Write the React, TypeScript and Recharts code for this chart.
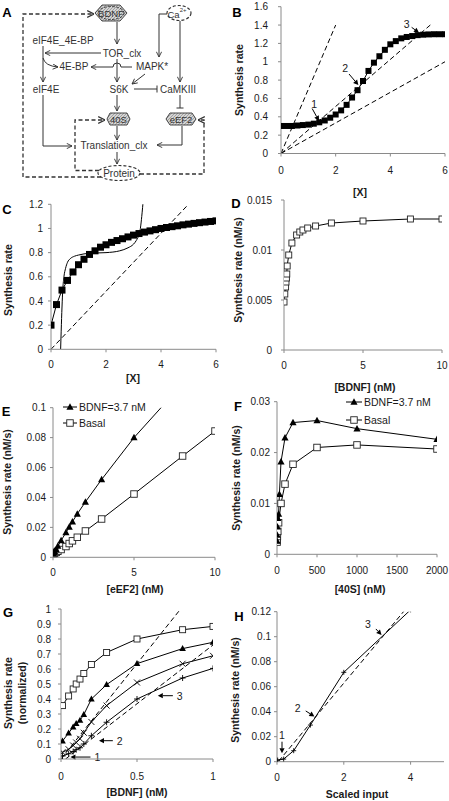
import React from 'react'
import { LineChart, Line, XAxis, YAxis, ReferenceLine } from 'recharts'

const FONT = 'Arial, "Liberation Sans", Helvetica, sans-serif'
const AXIS = '#8a8a8a'
const TXT = '#1a1a1a'

// ---------- B ----------
const bX = [0, 0.2, 0.4, 0.6, 0.8, 1, 1.2, 1.4, 1.6, 1.8, 2, 2.2, 2.4, 2.6, 2.8, 3, 3.2, 3.4, 3.6, 3.8, 4, 4.2, 4.4, 4.6, 4.8, 5, 5.2, 5.4, 5.6, 5.8, 6]
const bRate = [0.3, 0.3, 0.3, 0.305, 0.31, 0.315, 0.325, 0.34, 0.36, 0.39, 0.425, 0.47, 0.53, 0.61, 0.69, 0.79, 0.9, 0.99, 1.06, 1.13, 1.19, 1.225, 1.255, 1.27, 1.28, 1.29, 1.295, 1.298, 1.3, 1.3, 1.3]
const bSteepX = [0, 2]
const bSteepY = [0, 1.4]
const bMidX = [0, 5.5]
const bMidY = [0, 1.41]
const bLowX = [0, 6]
const bLowY = [0, 1.0]
const bXTicks = [0, 2, 4, 6]
const bYTicks = [0, 0.2, 0.4, 0.6, 0.8, 1, 1.2, 1.4, 1.6]
const bArrows = [
  { n: '1', from: [1.14, 0.49], to: [1.39, 0.355] },
  { n: '2', from: [2.49, 0.866], to: [2.83, 0.746] },
  { n: '3', from: [4.78, 1.375], to: [5.05, 1.317] },
]

// ---------- C ----------
const cX = bX
const cRate = [0.2, 0.37, 0.49, 0.57, 0.64, 0.7, 0.745, 0.785, 0.815, 0.845, 0.865, 0.885, 0.9, 0.915, 0.93, 0.945, 0.958, 0.97, 0.98, 0.99, 1.0, 1.008, 1.015, 1.022, 1.03, 1.036, 1.042, 1.048, 1.053, 1.058, 1.063]
const cCurveX = [0.35, 0.37, 0.4, 0.43, 0.47, 0.53, 0.6, 0.7, 0.85, 1, 1.4, 2, 2.5, 2.8, 3, 3.1, 3.2, 3.25, 3.3, 3.36]
const cCurveY = [0, 0.15, 0.35, 0.5, 0.6, 0.67, 0.72, 0.75, 0.77, 0.78, 0.795, 0.8, 0.815, 0.84, 0.87, 0.9, 0.95, 1.0, 1.1, 1.25]
const cDashX = [0, 5]
const cDashY = [0, 1.2]
const cYTicks = [0, 0.2, 0.4, 0.6, 0.8, 1, 1.2]

// ---------- D ----------
const dBdnf = [0, 0.05, 0.1, 0.125, 0.15, 0.175, 0.2, 0.3, 0.5, 0.8, 1, 1.2, 1.5, 2, 3, 5, 8, 10]
const dRate = [0.0048, 0.0056, 0.0063, 0.0068, 0.0072, 0.0076, 0.0084, 0.0095, 0.0107, 0.0115, 0.0118, 0.012, 0.0122, 0.0124, 0.0127, 0.0129, 0.0131, 0.0131]
const dXTicks = [0, 5, 10]
const dYTicks = [0, 0.005, 0.01, 0.015]

// ---------- E ----------
const eEef2 = [0, 0.05, 0.1, 0.2, 0.3, 0.5, 0.8, 1, 1.2, 1.5, 2, 3, 5, 8, 10]
const eBdnf = [0.0027, 0.0033, 0.004, 0.0052, 0.0075, 0.0112, 0.0165, 0.0202, 0.0238, 0.029, 0.037, 0.052, 0.08, 0.116, 0.14]
const eBasal = [0.0022, 0.0025, 0.0028, 0.0033, 0.004, 0.0052, 0.0072, 0.0092, 0.011, 0.0134, 0.0176, 0.0256, 0.0423, 0.0677, 0.0844]
const eXTicks = [0, 5, 10]
const eYTicks = [0, 0.02, 0.04, 0.06, 0.08, 0.1]

// ---------- F ----------
const f40sBdnf = [1, 2, 5, 10, 20, 30, 50, 100, 200, 500, 1000, 2000]
const fBdnf = [0.0026, 0.0038, 0.0054, 0.0071, 0.0079, 0.0118, 0.0182, 0.0229, 0.0259, 0.0263, 0.0247, 0.0226]
const f40sBasal = [1, 2, 5, 10, 20, 50, 100, 200, 500, 1000, 2000]
const fBasal = [0.0024, 0.0029, 0.0035, 0.0045, 0.0062, 0.01, 0.0138, 0.0177, 0.021, 0.0215, 0.0207]
const fXTicks = [0, 500, 1000, 1500, 2000]
const fYTicks = [0, 0.01, 0.02, 0.03]

// ---------- G ----------
const gBdnf = [0.01, 0.05, 0.08, 0.1, 0.125, 0.15, 0.2, 0.3, 0.5, 0.8, 1]
const gSquare = [0.356, 0.42, 0.467, 0.5, 0.533, 0.57, 0.63, 0.71, 0.8, 0.862, 0.884]
const gTriangle = [0.12, 0.173, 0.213, 0.236, 0.258, 0.296, 0.4, 0.496, 0.636, 0.736, 0.778]
const gCross = [0.045, 0.065, 0.09, 0.11, 0.135, 0.175, 0.247, 0.356, 0.51, 0.635, 0.688]
const gPlus = [0.02, 0.035, 0.05, 0.062, 0.075, 0.1, 0.155, 0.245, 0.4, 0.54, 0.604]
const gDash1X = [0, 0.787]
const gDash1Y = [0, 1]
const gDash2X = [0.03, 1]
const gDash2Y = [0, 0.76]
const gXTicks = [0, 0.5, 1]
const gYTicks = [0, 0.1, 0.2, 0.3, 0.4, 0.5, 0.6, 0.7, 0.8, 0.9, 1]
const gArrows = [
  { n: '1', from: [0.194, 0.013], to: [0.062, 0.013] },
  { n: '2', from: [0.341, 0.122], to: [0.25, 0.122] },
  { n: '3', from: [0.736, 0.422], to: [0.637, 0.422] },
]

// ---------- H ----------
const hInput = [0.02, 0.2, 0.5, 1, 2, 4]
const hRate = [0.0013, 0.0021, 0.0088, 0.0293, 0.0715, 0.1215]
const hDashX = [0.05, 3.85]
const hDashY = [0.0005, 0.122]
const hXTicks = [0, 2, 4]
const hYTicks = [0, 0.02, 0.04, 0.06, 0.08, 0.1, 0.12]
const hArrows = [
  { n: '1', from: [0.15, 0.016], to: [0.15, 0.0067] },
  { n: '2', from: [0.86, 0.0406], to: [1.12, 0.0362] },
  { n: '3', from: [2.96, 0.1062], to: [3.13, 0.1014] },
]

const pts = (xs: number[], ys: number[]) => xs.map((x, i) => ({ x, y: ys[i] }))

type Rect = { x0: number; x1: number; yTop: number; yBot: number }
// box = [left, top, right, bottom] of the chart svg in page px
function frame(r: Rect, box: number[]) {
  const [bl, bt, br, bb] = box
  return {
    style: { position: 'absolute' as const, left: bl, top: bt },
    chart: { width: br - bl, height: bb - bt, margin: { top: r.yTop - bt, right: br - r.x1, bottom: 0, left: 0 } },
    yw: r.x0 - bl,
    xh: bb - r.yBot,
  }
}

const tickStyle = { fill: TXT, fontSize: 10, fontFamily: FONT }
const xAx = (h: number, domain: number[], ticks: number[], tm: number) => (
  <XAxis type="number" dataKey="x" domain={domain} ticks={ticks} interval={0} height={h} tickSize={3} tickMargin={tm} stroke={AXIS} tick={tickStyle} allowDataOverflow />
)
const yAx = (w: number, domain: number[], ticks: number[], tm: number) => (
  <YAxis type="number" domain={domain} ticks={ticks} interval={0} width={w} tickSize={3} tickMargin={tm} stroke={AXIS} tick={tickStyle} allowDataOverflow />
)

type DotP = { cx?: number; cy?: number; index?: number }
const filledSquare = (s: number) => (p: DotP) => (
  <rect key={`fs${p.index}`} x={(p.cx ?? 0) - s / 2} y={(p.cy ?? 0) - s / 2} width={s} height={s} fill="#000" />
)
const openSquare = (s: number) => (p: DotP) => (
  <rect key={`os${p.index}`} x={(p.cx ?? 0) - s / 2} y={(p.cy ?? 0) - s / 2} width={s} height={s} fill="#fff" stroke="#222" strokeWidth={0.9} />
)
const triangle = (s: number) => (p: DotP) => {
  const cx = p.cx ?? 0
  const cy = p.cy ?? 0
  return <path key={`tr${p.index}`} d={`M${cx},${cy - s * 0.58}L${cx + s * 0.55},${cy + s * 0.42}L${cx - s * 0.55},${cy + s * 0.42}Z`} fill="#000" />
}
const xMark = (s: number) => (p: DotP) => {
  const cx = p.cx ?? 0
  const cy = p.cy ?? 0
  const h = s / 2
  return <path key={`xm${p.index}`} d={`M${cx - h},${cy - h}L${cx + h},${cy + h}M${cx + h},${cy - h}L${cx - h},${cy + h}`} stroke="#000" strokeWidth={0.9} fill="none" />
}
const plusMark = (s: number) => (p: DotP) => {
  const cx = p.cx ?? 0
  const cy = p.cy ?? 0
  const h = s / 2
  return <path key={`pm${p.index}`} d={`M${cx - h},${cy}L${cx + h},${cy}M${cx},${cy - h}L${cx},${cy + h}`} stroke="#000" strokeWidth={0.9} fill="none" />
}

// arrow annotation drawn through ReferenceLine segment
const arrowShape = (label: string, dx: number, dy: number, anchor: string) => (p: any) => {
  const { x1, y1, x2, y2 } = p
  const a = Math.atan2(y2 - y1, x2 - x1)
  const L = 5
  const W = 2.6
  const bx = x2 - L * Math.cos(a)
  const by = y2 - L * Math.sin(a)
  const px = -Math.sin(a) * W
  const py = Math.cos(a) * W
  return (
    <g>
      <line x1={x1} y1={y1} x2={bx} y2={by} stroke="#000" strokeWidth={1} />
      <path d={`M${x2},${y2}L${bx + px},${by + py}L${bx - px},${by - py}Z`} fill="#000" />
      <text x={x1 + dx} y={y1 + dy} textAnchor={anchor} dominantBaseline="central" fontSize={10.5} fontFamily={FONT} fill={TXT}>{label}</text>
    </g>
  )
}

const solid = { stroke: '#000', strokeWidth: 1, isAnimationActive: false }
const dashed = { stroke: '#000', strokeWidth: 1, strokeDasharray: '5 3', dot: false, isAnimationActive: false }

function PanelB() {
  const f = frame({ x0: 281, x1: 445, yTop: 6.7, yBot: 153.5 }, [235, 0, 449, 185])
  const offs = [[2, -5, 'middle'], [-4, -6, 'middle'], [-5, -3.5, 'middle']]
  return (
    <div style={f.style}>
      <LineChart {...f.chart}>
        {xAx(f.xh, [0, 6], bXTicks, 10)}
        {yAx(f.yw, [0, 1.6], bYTicks, 10)}
        <Line data={pts(bSteepX, bSteepY)} dataKey="y" {...dashed} />
        <Line data={pts(bMidX, bMidY)} dataKey="y" {...dashed} />
        <Line data={pts(bLowX, bLowY)} dataKey="y" {...dashed} />
        <Line data={pts(bX, bRate)} dataKey="y" {...solid} dot={filledSquare(6)} />
        {bArrows.map((a, i) => (
          <ReferenceLine key={a.n} segment={[{ x: a.from[0], y: a.from[1] }, { x: a.to[0], y: a.to[1] }]} shape={arrowShape(a.n, offs[i][0] as number, offs[i][1] as number, offs[i][2] as string)} />
        ))}
      </LineChart>
    </div>
  )
}

function PanelC() {
  const f = frame({ x0: 51, x1: 216, yTop: 204.3, yBot: 349.3 }, [10, 195, 224, 372])
  return (
    <div style={f.style}>
      <LineChart {...f.chart}>
        {xAx(f.xh, [0, 6], bXTicks, 9)}
        {yAx(f.yw, [0, 1.2], cYTicks, 5)}
        <Line data={pts(cDashX, cDashY)} dataKey="y" {...dashed} />
        <Line data={pts(cCurveX, cCurveY)} dataKey="y" type="monotone" {...solid} dot={false} />
        <Line data={pts(cX, cRate)} dataKey="y" {...solid} dot={filledSquare(7)} />
      </LineChart>
    </div>
  )
}

function PanelD() {
  const f = frame({ x0: 284, x1: 442, yTop: 200, yBot: 350 }, [245, 192, 449, 375])
  return (
    <div style={f.style}>
      <LineChart {...f.chart}>
        {xAx(f.xh, [0, 10], dXTicks, 8.5)}
        {yAx(f.yw, [0, 0.015], dYTicks, 9)}
        <Line data={pts(dBdnf, dRate)} dataKey="y" {...solid} dot={openSquare(6)} />
      </LineChart>
    </div>
  )
}

function PanelE() {
  const f = frame({ x0: 53, x1: 215, yTop: 407.7, yBot: 557.3 }, [10, 400, 224, 580])
  return (
    <div style={f.style}>
      <LineChart {...f.chart}>
        {xAx(f.xh, [0, 10], eXTicks, 8.5)}
        {yAx(f.yw, [0, 0.1], eYTicks, 4)}
        <Line data={pts(eEef2, eBasal)} dataKey="y" {...solid} dot={openSquare(6.5)} />
        <Line data={pts(eEef2, eBdnf)} dataKey="y" {...solid} dot={triangle(6.5)} />
      </LineChart>
    </div>
  )
}

function PanelF() {
  const f = frame({ x0: 277, x1: 437, yTop: 401.7, yBot: 554.3 }, [245, 395, 449, 580])
  return (
    <div style={f.style}>
      <LineChart {...f.chart}>
        {xAx(f.xh, [0, 2000], fXTicks, 9.5)}
        {yAx(f.yw, [0, 0.03], fYTicks, 4)}
        <Line data={pts(f40sBasal, fBasal)} dataKey="y" {...solid} dot={openSquare(6.5)} />
        <Line data={pts(f40sBdnf, fBdnf)} dataKey="y" {...solid} dot={triangle(6.5)} />
      </LineChart>
    </div>
  )
}

function PanelG() {
  const f = frame({ x0: 61, x1: 213, yTop: 609, yBot: 759 }, [15, 600, 224, 785])
  return (
    <div style={f.style}>
      <LineChart {...f.chart}>
        {xAx(f.xh, [0, 1], gXTicks, 11)}
        {yAx(f.yw, [0, 1], gYTicks, 7)}
        <Line data={pts(gDash1X, gDash1Y)} dataKey="y" {...dashed} />
        <Line data={pts(gDash2X, gDash2Y)} dataKey="y" {...dashed} />
        <Line data={pts(gBdnf, gSquare)} dataKey="y" {...solid} dot={openSquare(6)} />
        <Line data={pts(gBdnf, gTriangle)} dataKey="y" {...solid} dot={triangle(6)} />
        <Line data={pts(gBdnf, gCross)} dataKey="y" {...solid} dot={xMark(6)} />
        <Line data={pts(gBdnf, gPlus)} dataKey="y" {...solid} dot={plusMark(6)} />
        {gArrows.map((a) => (
          <ReferenceLine key={a.n} segment={[{ x: a.from[0], y: a.from[1] }, { x: a.to[0], y: a.to[1] }]} shape={arrowShape(a.n, 4, 0, 'start')} />
        ))}
      </LineChart>
    </div>
  )
}

function PanelH() {
  const f = frame({ x0: 277, x1: 444, yTop: 611.7, yBot: 761.7 }, [245, 600, 449, 785])
  const offs = [[0, -7, 'middle'], [-8, -3, 'middle'], [-8, -5, 'middle']]
  return (
    <div style={f.style}>
      <LineChart {...f.chart}>
        {xAx(f.xh, [0, 5], hXTicks, 9.5)}
        {yAx(f.yw, [0, 0.12], hYTicks, 3)}
        <Line data={pts(hDashX, hDashY)} dataKey="y" {...dashed} />
        <Line data={pts(hInput, hRate)} dataKey="y" {...solid} dot={plusMark(5)} />
        {hArrows.map((a, i) => (
          <ReferenceLine key={a.n} segment={[{ x: a.from[0], y: a.from[1] }, { x: a.to[0], y: a.to[1] }]} shape={arrowShape(a.n, offs[i][0] as number, offs[i][1] as number, offs[i][2] as string)} />
        ))}
      </LineChart>
    </div>
  )
}

function Diagram() {
  const c = '#333'
  const arrow = { stroke: c, strokeWidth: 1, fill: 'none', markerEnd: 'url(#ah)' }
  const dash = { stroke: c, strokeWidth: 1.3, fill: 'none', strokeDasharray: '4 2.5', markerEnd: 'url(#ah)' }
  const t = { textAnchor: 'middle' as const, dominantBaseline: 'central' as const, fill: c, fontSize: 10, fontFamily: FONT }
  return (
    <g>
      <defs>
        <marker id="ah" viewBox="0 0 8 8" refX="7.5" refY="4" markerWidth="6" markerHeight="6" orient="auto">
          <path d="M0.5,0.5 L7.5,4 L0.5,7.5" fill="none" stroke={c} strokeWidth="1.2" />
        </marker>
        <pattern id="hatch" width="3" height="3" patternUnits="userSpaceOnUse">
          <rect width="3" height="3" fill="#d4d4d4" />
          <path d="M0,3 L3,0" stroke="#8a8a8a" strokeWidth="0.7" />
        </pattern>
      </defs>
      {/* nodes */}
      <polygon points="95,13 102,5 120,5 127,13 120,21 102,21" fill="url(#hatch)" stroke={c} strokeWidth={0.9} />
      <ellipse cx={111} cy={13} rx={13} ry={6.5} fill="url(#hatch)" stroke={c} strokeWidth={1} strokeDasharray="2.5 1.5" />
      <text x={111} y={13.5} {...t} fontSize={9.5}>BDNF</text>
      <ellipse cx={179} cy={13} rx={12} ry={7.5} fill="#fff" stroke={c} strokeWidth={1.2} strokeDasharray="3 2" />
      <text x={177} y={14} {...t} fontSize={9.5}>Ca<tspan fontSize={6} dy={-4}>2+</tspan></text>
      <text x={63} y={40.7} {...t}>eIF4E_4E-BP</text>
      <text x={122} y={53.3} {...t}>TOR_clx</text>
      <text x={74} y={66.7} {...t}>4E-BP</text>
      <text x={152} y={66.7} {...t}>MAPK*</text>
      <text x={46} y={89.3} {...t}>eIF4E</text>
      <text x={119} y={89.3} {...t}>S6K</text>
      <text x={178} y={89.3} {...t}>CaMKIII</text>
      <polygon points="107,119 110,113 127,113 130,119 127,125 110,125" fill="url(#hatch)" stroke={c} strokeWidth={0.9} />
      <text x={118.5} y={119.3} {...t} fontSize={9.5}>40S</text>
      <polygon points="166,119 170,113 192,113 196,119 192,125 170,125" fill="url(#hatch)" stroke={c} strokeWidth={0.9} />
      <text x={181} y={119.3} {...t} fontSize={9.5}>eEF2</text>
      <text x={114} y={145.7} {...t}>Translation_clx</text>
      <ellipse cx={119} cy={173} rx={21} ry={7.5} fill="#fff" stroke={c} strokeWidth={1.2} strokeDasharray="3 2" />
      <text x={119} y={173.5} {...t}>Protein</text>
      {/* solid edges */}
      <path d="M117,22 L117,44" {...arrow} />
      <path d="M101,53 L45,53" {...arrow} />
      <path d="M43,46 L43,82" {...arrow} />
      <path d="M43,58 Q45,66 58,67" {...arrow} />
      <path d="M132,67 L121,67 A4,4 0 0 0 113,67 L91,67" {...arrow} />
      <path d="M117,59 L117,82" {...arrow} />
      <path d="M167,14 L159,14 L159,57" {...arrow} />
      <path d="M180,21 L180,82" {...arrow} />
      <path d="M145,74 L132,84" {...arrow} />
      <path d="M134,89 L157,89 M157,85.5 L157,92.5" stroke={c} strokeWidth={1} fill="none" />
      <path d="M117,95 L117,111" {...arrow} />
      <path d="M180,95 L180,108 M176.5,108 L183.5,108" stroke={c} strokeWidth={1} fill="none" />
      <path d="M43,95 L43,146 L72,146" {...arrow} />
      <path d="M182,126 L182,145 L157,145" {...arrow} />
      <path d="M117,126 L117,140" {...arrow} />
      <path d="M117,152 L117,164" {...arrow} />
      {/* dashed feedback */}
      <path d="M99,170.5 L75,170.5 L75,120 L105,120" {...dash} />
      <path d="M140,174 L204,174 L204,120 L198,120" {...dash} />
      <path d="M101,177 L23,177 L23,14 L94,14" {...dash} />
    </g>
  )
}

function Overlay() {
  const letter = { fontSize: 13, fontWeight: 700, fontFamily: FONT, fill: '#000', textAnchor: 'middle' as const, dominantBaseline: 'central' as const }
  const title = { fontSize: 10.5, fontWeight: 700, fontFamily: FONT, fill: TXT, textAnchor: 'middle' as const, dominantBaseline: 'central' as const }
  const leg = { fontSize: 10.5, fontFamily: FONT, fill: TXT, dominantBaseline: 'central' as const }
  const yTitle = (x: number, y: number, s: string) => (
    <text x={x} y={y} transform={`rotate(-90 ${x} ${y})`} {...title}>{s}</text>
  )
  return (
    <svg width={449} height={801} style={{ position: 'absolute', left: 0, top: 0, pointerEvents: 'none' }}>
      <Diagram />
      <text x={7} y={12} {...letter}>A</text>
      <text x={237} y={12.5} {...letter}>B</text>
      <text x={7} y={209} {...letter}>C</text>
      <text x={236} y={203} {...letter}>D</text>
      <text x={6} y={411} {...letter}>E</text>
      <text x={238} y={406} {...letter}>F</text>
      <text x={8} y={612} {...letter}>G</text>
      <text x={239} y={616} {...letter}>H</text>

      {yTitle(238.5, 80, 'Synthesis rate')}
      <text x={360} y={192} {...title}>[X]</text>
      {yTitle(7.5, 280, 'Synthesis rate')}
      <text x={133} y={378} {...title}>[X]</text>
      {yTitle(238, 270, 'Synthesis rate (nM/s)')}
      <text x={365} y={387} {...title}>[BDNF] (nM)</text>
      {yTitle(6.5, 482, 'Synthesis rate (nM/s)')}
      <text x={135} y={589} {...title}>[eEF2] (nM)</text>
      {yTitle(235.5, 478, 'Synthesis rate (nM/s)')}
      <text x={360} y={589} {...title}>[40S] (nM)</text>
      {yTitle(8, 693, 'Synthesis rate')}
      {yTitle(21.5, 693, '(normalized)')}
      <text x={137} y={792} {...title}>[BDNF] (nM)</text>
      {yTitle(235, 690, 'Synthesis rate (nM/s)')}
      <text x={357} y={794} {...title}>Scaled input</text>

      {/* legends E */}
      <line x1={63} y1={407} x2={77} y2={407} stroke="#000" />
      {triangle(6.5)({ cx: 70, cy: 407, index: 0 })}
      <text x={79} y={407} {...leg}>BDNF=3.7 nM</text>
      <line x1={63} y1={423} x2={77} y2={423} stroke="#000" />
      {openSquare(6.5)({ cx: 70, cy: 423, index: 1 })}
      <text x={79} y={423} {...leg}>Basal</text>
      {/* legends F */}
      <line x1={346} y1={402} x2={362} y2={402} stroke="#000" />
      {triangle(6.5)({ cx: 354, cy: 402, index: 2 })}
      <text x={364} y={402} {...leg}>BDNF=3.7 nM</text>
      <line x1={346} y1={420} x2={362} y2={420} stroke="#000" />
      {openSquare(6.5)({ cx: 354, cy: 420, index: 3 })}
      <text x={364} y={420} {...leg}>Basal</text>
    </svg>
  )
}

export default function App() {
  return (
    <div style={{ position: 'absolute', left: 0, top: 0, width: 449, height: 801, background: '#fff', fontFamily: FONT, overflow: 'hidden' }}>
      <PanelB />
      <PanelC />
      <PanelD />
      <PanelE />
      <PanelF />
      <PanelG />
      <PanelH />
      <Overlay />
    </div>
  )
}
